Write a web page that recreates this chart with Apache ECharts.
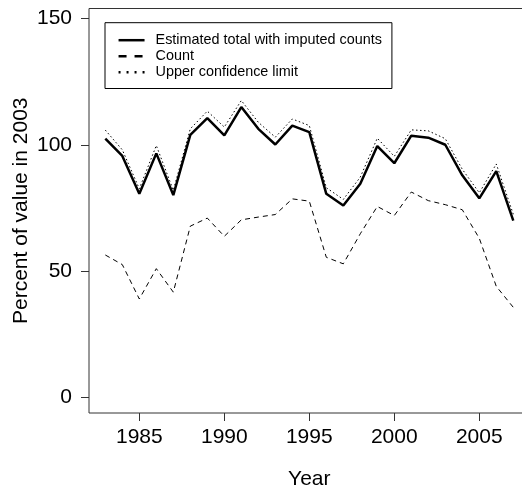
<!DOCTYPE html>
<html>
<head>
<meta charset="utf-8">
<script src="https://cdn.jsdelivr.net/npm/echarts@6/dist/echarts.min.js"></script>
<style>
  html, body { margin: 0; padding: 0; background: #fff; }
  #chart { width: 522px; height: 488px; }
</style>
</head>
<body>
<div id="chart"></div>
<script>
const years = [1983,1984,1985,1986,1987,1988,1989,1990,1991,1992,1993,1994,1995,1996,1997,1998,1999,2000,2001,2002,2003,2004,2005,2006,2007];
const estimatedTotal = [102.4,95.6,80.6,96.6,80.1,103.9,110.5,103.7,114.9,106.3,100.1,107.6,105.0,80.6,76.0,84.6,99.5,92.7,103.6,102.8,100.0,87.9,78.8,89.6,70.0];
const countValues = [56.4,52.6,39.0,51.0,41.7,67.8,71.0,63.8,70.3,71.4,72.4,78.6,77.7,55.5,52.9,64.8,75.6,72.0,81.3,77.9,76.3,74.3,63.0,44.0,35.7];
const upperLimit = [105.8,98.0,82.6,99.7,82.0,106.3,113.3,107.0,117.5,108.9,103.0,110.2,107.6,83.0,78.4,87.2,102.6,95.4,105.9,105.5,102.4,90.3,81.0,92.4,72.5];
const xTicks = [1985,1990,1995,2000,2005];
const yTicks = [0,50,100,150];
const seriesNames = ['Estimated total with imputed counts','Count','Upper confidence limit'];

const pairs = arr => years.map((y, i) => [y, arr[i]]);
const FONT = '"Liberation Sans", Arial, sans-serif';

const chart = echarts.init(document.getElementById('chart'), null, { renderer: 'canvas' });
chart.setOption({
  animation: false,
  backgroundColor: '#fff',
  textStyle: { fontFamily: FONT, color: '#000' },
  grid: {
    show: true, left: 89, top: 8.5, width: 440.6, height: 404.5,
    containLabel: false, outerBoundsMode: 'none',
    borderColor: '#333', borderWidth: 1, backgroundColor: 'transparent'
  },
  legend: {
    orient: 'vertical', left: 105, top: 22.7,
    padding: [10.5, 10, 9.3, 12.3],
    borderColor: '#000', borderWidth: 1,
    itemWidth: 26, itemHeight: 14.5, itemGap: 2,
    itemStyle: { opacity: 0 },
    textStyle: { fontFamily: FONT, fontSize: 14.4, color: '#000', padding: [0, 0, 0, 6] },
    data: [
      { name: seriesNames[0], itemStyle: { opacity: 0 }, lineStyle: { width: 2.5, type: 'solid', color: '#000' } },
      { name: seriesNames[1], itemStyle: { opacity: 0 }, lineStyle: { width: 2.5, type: [8, 8], color: '#000' } },
      { name: seriesNames[2], itemStyle: { opacity: 0 }, lineStyle: { width: 2.5, type: [2, 6], color: '#000' } }
    ]
  },
  xAxis: {
    type: 'value', min: 1982.04, max: 2007.96,
    name: 'Year', nameLocation: 'middle', nameGap: 56, nameMoveOverlap: false,
    nameTextStyle: { fontFamily: FONT, fontSize: 21, color: '#000' },
    axisLine: { show: false, onZero: false },
    axisTick: { show: true, length: 8, customValues: xTicks, lineStyle: { color: '#333', width: 1 } },
    axisLabel: { customValues: xTicks, formatter: v => String(v), fontFamily: FONT, fontSize: 21, color: '#000', margin: 14 },
    splitLine: { show: false }
  },
  yAxis: {
    type: 'value', min: -6.1, max: 153.9,
    name: 'Percent of value in 2003', nameLocation: 'middle', nameGap: 57, nameRotate: 90, nameMoveOverlap: false,
    nameTextStyle: { fontFamily: FONT, fontSize: 21, color: '#000' },
    axisLine: { show: false, onZero: false },
    axisTick: { show: true, length: 8, customValues: yTicks, lineStyle: { color: '#333', width: 1 } },
    axisLabel: { customValues: yTicks, formatter: v => String(v), fontFamily: FONT, fontSize: 21, color: '#000', margin: 17 },
    splitLine: { show: false }
  },
  series: [
    {
      name: seriesNames[0], type: 'line', data: pairs(estimatedTotal),
      symbol: 'none', z: 4, itemStyle: { color: '#000' },
      lineStyle: { color: '#000', width: 2.5, type: 'solid' }
    },
    {
      name: seriesNames[1], type: 'line', data: pairs(countValues),
      symbol: 'none', z: 3, itemStyle: { color: '#000' },
      lineStyle: { color: '#000', width: 1, type: [5, 4] }
    },
    {
      name: seriesNames[2], type: 'line', data: pairs(upperLimit),
      symbol: 'none', z: 3, itemStyle: { color: '#000' },
      lineStyle: { color: '#000', width: 1, type: [1.5, 2.5] }
    }
  ]
});
</script>
</body>
</html>
